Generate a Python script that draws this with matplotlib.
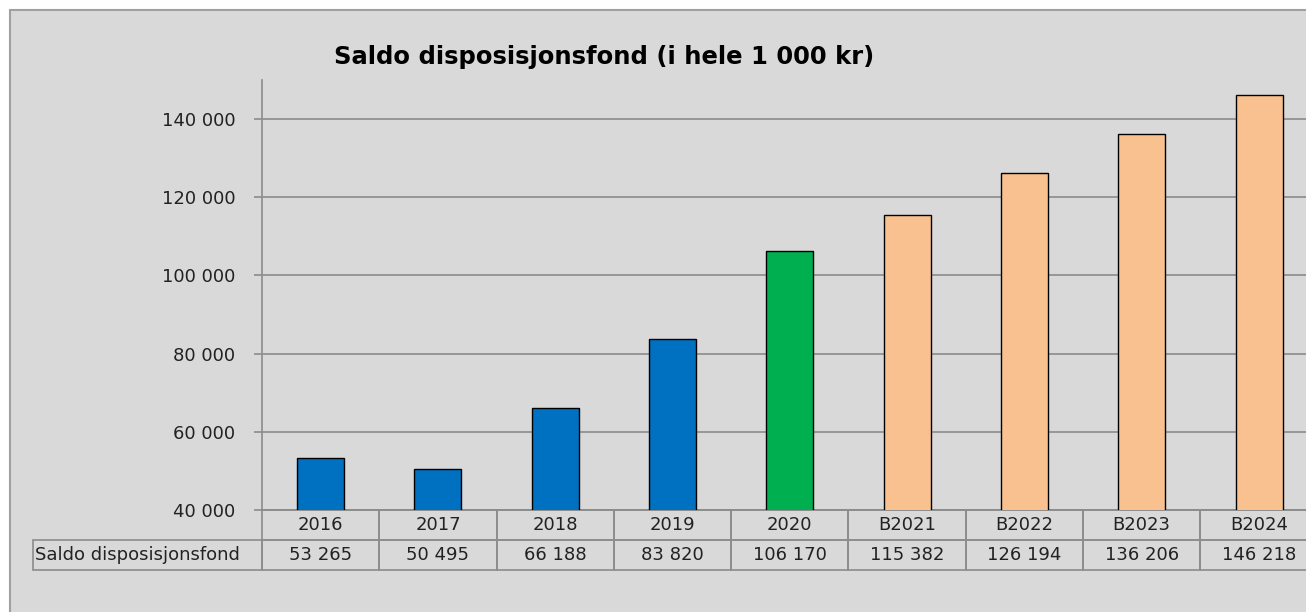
import matplotlib.pyplot as plt
from matplotlib.patches import Rectangle
from matplotlib.ticker import FuncFormatter

# Data
CATEGORIES = ["2016", "2017", "2018", "2019", "2020", "B2021", "B2022", "B2023", "B2024"]
SALDO = [53265, 50495, 66188, 83820, 106170, 115382, 126194, 136206, 146218]
BAR_COLORS = ["#0070c0"] * 4 + ["#00b050"] + ["#f9c18f"] * 4
ROW_LABEL = "Saldo disposisjonsfond"
TITLE = "Saldo disposisjonsfond (i hele 1 000 kr)"

FIG_W, FIG_H, DPI = 1306, 612, 100
FONT_SIZE = 13
GRID_COLOR = "#8c8c8c"
PANEL_COLOR = "#d9d9d9"
TEXT_COLOR = "#222222"
plt.rcParams["font.family"] = "DejaVu Sans"


def thousands(v, _pos):
    return f"{int(v):,}".replace(",", " ")


def main():
    fig = plt.figure(figsize=(FIG_W / DPI, FIG_H / DPI), dpi=DPI)
    fig.patch.set_facecolor("white")

    # grey chart panel (cut off on right and bottom)
    fig.add_artist(Rectangle((10 / FIG_W, -0.2), 1.2, 0.2 + (FIG_H - 10) / FIG_H,
                             transform=fig.transFigure, facecolor=PANEL_COLOR,
                             edgecolor="#a0a0a0", lw=1.5, zorder=0))

    # plot area in pixels
    left, right = 262, 262 + 9 * 117.3
    top, bottom = 80, 510
    ax = fig.add_axes([left / FIG_W, 1 - bottom / FIG_H,
                       (right - left) / FIG_W, (bottom - top) / FIG_H])
    ax.set_facecolor("none")

    x = range(len(CATEGORIES))
    ax.bar(x, SALDO, width=0.4, color=BAR_COLORS, edgecolor="black", lw=1, zorder=3)
    ax.set_xlim(-0.5, len(CATEGORIES) - 0.5)
    ax.set_ylim(40000, 150000)
    ax.set_yticks(range(40000, 140001, 20000))
    ax.yaxis.set_major_formatter(FuncFormatter(thousands))
    ax.set_xticks([])
    ax.tick_params(axis="y", length=6, width=1.2, color=GRID_COLOR, pad=13,
                   labelsize=FONT_SIZE, labelcolor=TEXT_COLOR)
    ax.yaxis.grid(True, color=GRID_COLOR, lw=1.2, zorder=0)
    for side in ["top", "right"]:
        ax.spines[side].set_visible(False)
    for side in ["left", "bottom"]:
        ax.spines[side].set_color(GRID_COLOR)
        ax.spines[side].set_linewidth(1.2)

    # data table below the axis (row-label column hangs left of the bbox)
    ax_w_px = right - left
    ax_h_px = bottom - top
    label_w = (262 - 33) / ax_w_px
    tab_h = 60 / ax_h_px
    table = ax.table(
        cellText=[[thousands(v, None) for v in SALDO]],
        colLabels=CATEGORIES,
        colWidths=[1 / len(CATEGORIES)] * len(CATEGORIES),
        cellLoc="center",
        bbox=[0, -tab_h, 1, tab_h],
    )
    table.add_cell(1, -1, width=label_w, height=table[1, 0].get_height(),
                   text=ROW_LABEL, loc="left")
    table.auto_set_font_size(False)
    table.set_fontsize(FONT_SIZE)
    for (r, c), cell in table.get_celld().items():
        cell.set_facecolor("none")
        cell.set_edgecolor(GRID_COLOR)
        cell.set_linewidth(1.2)
        cell.get_text().set_color(TEXT_COLOR)
        if c == -1:
            cell.PAD = 0.01

    fig.text(604 / FIG_W, 1 - 57 / FIG_H, TITLE, ha="center", va="center",
             fontsize=17.5, fontweight="bold", color="black")

    plt.savefig("out.png", dpi=DPI)


if __name__ == "__main__":
    main()
